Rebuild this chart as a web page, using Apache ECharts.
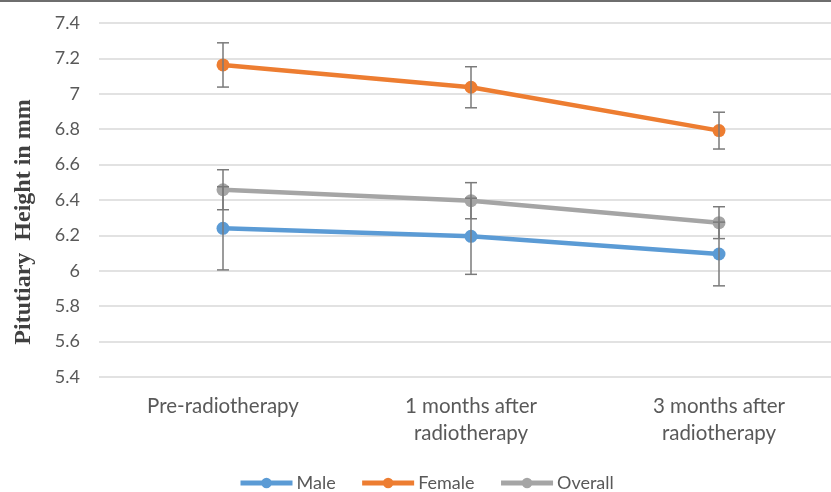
<!DOCTYPE html>
<html><head><meta charset="utf-8">
<script src="https://cdn.jsdelivr.net/npm/echarts@6/dist/echarts.min.js"></script>
<style>html,body{margin:0;padding:0;background:#fff}#c{width:831px;height:492px}</style>
</head><body><div id="c"></div>
<script>
const categories = ['Pre-radiotherapy', '1 months after\nradiotherapy', '3 months after\nradiotherapy'];
const seriesNames = ['Male', 'Female', 'Overall'];
const maleValues = [6.24, 6.195, 6.095];
const maleErr = [0.235, 0.215, 0.18];
const femaleValues = [7.163, 7.037, 6.792];
const femaleErr = [0.125, 0.116, 0.104];
const overallValues = [6.458, 6.396, 6.272];
const overallErr = [0.113, 0.102, 0.09];
const yTicks = [5.4, 7.4, 0.2];
const colors = ['#5B9BD5', '#ED7D31', '#A5A5A5'];

const allVals = [maleValues, femaleValues, overallValues];
const allErr = [maleErr, femaleErr, overallErr];

const chart = echarts.init(document.getElementById('c'));
const lineSeries = seriesNames.map((n, i) => ({
  name: n, type: 'line', data: allVals[i], symbol: 'circle', symbolSize: 13,
  itemStyle: {color: colors[i]}, lineStyle: {width: 4.5, color: colors[i]}, z: 2
}));
const errSeries = seriesNames.map((n, i) => ({
  type: 'custom', name: n + ' err', z: 3, silent: true,
  data: allVals[i].map((v, k) => [k, v - allErr[i][k], v + allErr[i][k]]),
  renderItem: function (params, api) {
    const lo = api.coord([api.value(0), api.value(1)]);
    const hi = api.coord([api.value(0), api.value(2)]);
    const hw = 6;
    const st = {stroke: '#7a7a7a', lineWidth: 1.5};
    return {type: 'group', children: [
      {type: 'line', shape: {x1: lo[0], y1: lo[1], x2: hi[0], y2: hi[1]}, style: st},
      {type: 'line', shape: {x1: lo[0] - hw, y1: lo[1], x2: lo[0] + hw, y2: lo[1]}, style: st},
      {type: 'line', shape: {x1: hi[0] - hw, y1: hi[1], x2: hi[0] + hw, y2: hi[1]}, style: st}
    ]};
  }
}));

chart.setOption({
  animation: false,
  textStyle: {fontFamily: 'Lato'},
  grid: {left: 99, width: 744, top: 23, bottom: 115, outerBoundsMode: 'none', containLabel: false},
  legend: {
    data: seriesNames, left: 238, top: 474, padding: 0, itemWidth: 52, itemHeight: 13, itemGap: 24,
    lineStyle: {width: 5},
    textStyle: {fontSize: 18, color: '#595959', fontFamily: 'Lato', padding: [0, 0, 0, -1]}
  },
  xAxis: {
    type: 'category', data: categories, boundaryGap: true,
    axisLine: {show: false}, axisTick: {show: false},
    axisLabel: {fontSize: 20.5, color: '#595959', margin: 16, lineHeight: 27, fontFamily: 'Lato'}
  },
  yAxis: {
    type: 'value', min: yTicks[0], max: yTicks[1], interval: yTicks[2],
    axisLine: {show: false}, axisTick: {show: false},
    splitLine: {lineStyle: {color: '#d9d9d9', width: 1.5}},
    axisLabel: {fontSize: 18, color: '#595959', margin: 19, fontFamily: 'Lato',
      formatter: v => String(Math.round(v * 10) / 10)}
  },
  graphic: [
    {type: 'rect', shape: {x: 0, y: 0, width: 831, height: 2}, style: {fill: '#6e6e6e'}},
    {type: 'text', x: 24, y: 222, rotation: Math.PI / 2,
      style: {text: 'Pitutiary  Height in mm', font: 'bold 24px "Liberation Serif"', fill: '#404040',
        align: 'center', verticalAlign: 'middle'}}
  ],
  series: lineSeries.concat(errSeries)
});
</script></body></html>
